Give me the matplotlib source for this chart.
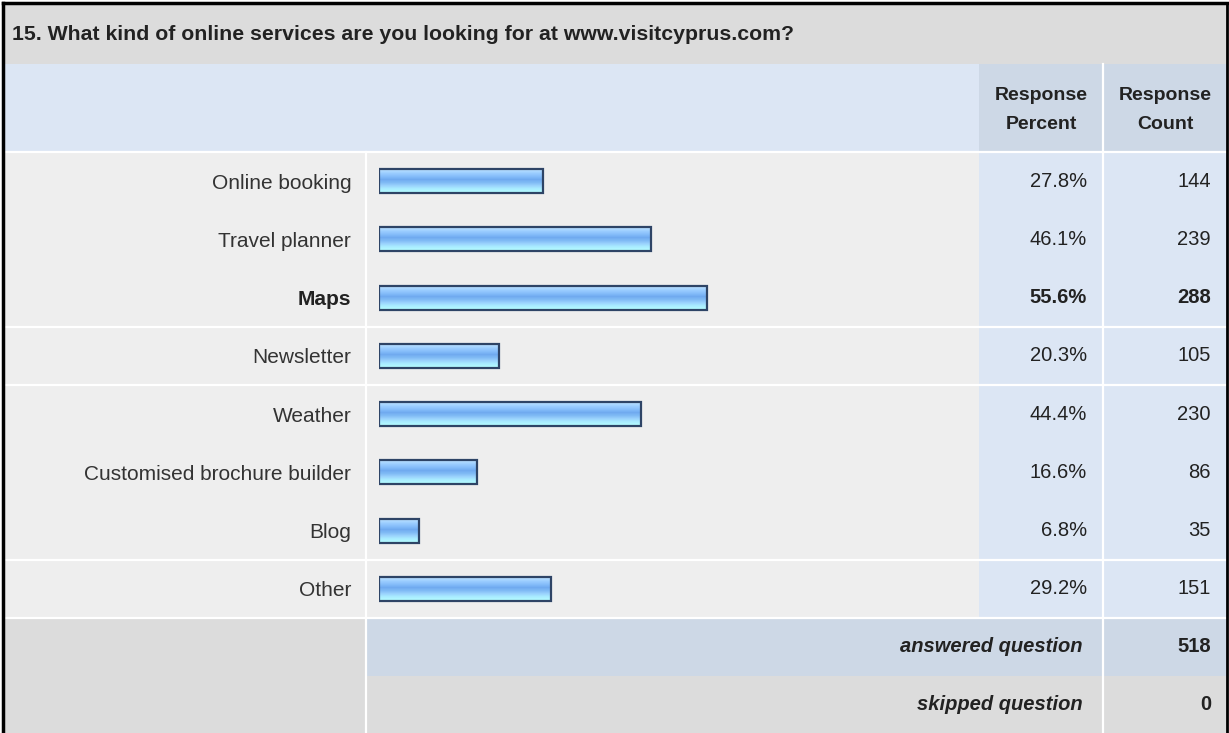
import matplotlib
matplotlib.use("Agg")
import matplotlib.pyplot as plt
import matplotlib.transforms as mtransforms
from matplotlib.patches import Rectangle
import numpy as np

plt.rcParams['font.family'] = ['Liberation Sans', 'DejaVu Sans']

# --- data ---
title = "15. What kind of online services are you looking for at www.visitcyprus.com?"
categories = ["Online booking", "Travel planner", "Maps", "Newsletter", "Weather",
              "Customised brochure builder", "Blog", "Other"]
percents = [27.8, 46.1, 55.6, 20.3, 44.4, 16.6, 6.8, 29.2]
counts = [144, 239, 288, 105, 230, 86, 35, 151]
bold_rows = ["Maps"]
answered = 518
skipped = 0

# --- layout (pixels) ---
W, H = 1229, 733
x_left, x_lab, x_pct, x_cnt, x_right = 4, 366, 979, 1103, 1227
y_top, y_head, y_data, y_foot, y_skip = 4, 64, 152, 618, 676
bar_x0, bar_x100 = 379, 969

c_title = '#dcdcdc'
c_head = '#dce6f4'
c_head_dark = '#cdd8e6'
c_row = '#eeeeee'
c_col = '#dce6f4'
c_text = '#222222'

fig = plt.figure(figsize=(W / 100, H / 100), dpi=100)
fig.patch.set_facecolor('white')

bg = fig.add_axes([0, 0, 1, 1])
bg.set_xlim(0, W)
bg.set_ylim(H, 0)
bg.axis('off')


def cell(x0, y0, x1, y1, color):
    bg.add_patch(Rectangle((x0, y0), x1 - x0, y1 - y0, facecolor=color, edgecolor='none', zorder=1))


cell(x_left, y_top, x_right, y_head, c_title)
cell(x_left, y_head, x_pct, y_data, c_head)
cell(x_pct, y_head, x_right, y_data, c_head_dark)
cell(x_left, y_data, x_pct, y_foot, c_row)
cell(x_pct, y_data, x_right, y_foot, c_col)
cell(x_left, y_foot, x_lab, H, c_title)
cell(x_lab, y_foot, x_right, y_skip, c_head_dark)
cell(x_lab, y_skip, x_right, H, c_title)

# white grid lines
row_h = (y_foot - y_data) / len(categories)
for k in [0, 3, 4, 7, 8]:
    y = y_data + k * row_h
    bg.plot([x_left, x_right], [y, y], color='white', lw=1.6, zorder=2)
bg.plot([x_lab - 0.5, x_lab - 0.5], [y_data, H], color='white', lw=1.6, zorder=2)
bg.plot([x_cnt - 0.5, x_cnt - 0.5], [y_head, H], color='white', lw=1.6, zorder=2)

# outer border
bg.plot([2.5, 2.5], [H, 2.5], color='black', lw=2.5, zorder=3)
bg.plot([2.5, W - 2], [2.5, 2.5], color='black', lw=2.5, zorder=3)
bg.plot([W - 2, W - 2], [2.5, H], color='black', lw=2.0, zorder=3)

# title and headers
bg.text(12, (y_top + y_head) / 2 + 1, title, fontsize=15.3, fontweight='bold',
        color=c_text, ha='left', va='center', zorder=4)
bg.text((x_pct + x_cnt) / 2, (y_head + y_data) / 2 + 2, "Response\nPercent", fontsize=14,
        fontweight='bold', color=c_text, ha='center', va='center', linespacing=1.9, zorder=4)
bg.text((x_cnt + x_right) / 2, (y_head + y_data) / 2 + 2, "Response\nCount", fontsize=14,
        fontweight='bold', color=c_text, ha='center', va='center', linespacing=1.9, zorder=4)

# --- bar axes ---
ax = fig.add_axes([bar_x0 / W, (H - y_foot) / H, (bar_x100 - bar_x0) / W, (y_foot - y_data) / H])
ax.patch.set_alpha(0)
for s in ax.spines.values():
    s.set_visible(False)
ax.set_xticks([])

y_pos = np.arange(len(categories))
bar_h = 0.41
grad = np.array([[0.70, 0.86, 1.00],
                 [0.60, 0.80, 1.00],
                 [0.52, 0.74, 0.98],
                 [0.44, 0.67, 0.94],
                 [0.50, 0.73, 0.96],
                 [0.60, 0.82, 0.99],
                 [0.66, 0.92, 1.00],
                 [0.70, 0.98, 1.00]]).reshape(-1, 1, 3)

bars = ax.barh(y_pos, percents, height=bar_h, color='none', edgecolor='#2e4466',
               linewidth=1.6, zorder=3)
for b in bars:
    x0, y0, w, h = b.get_x(), b.get_y(), b.get_width(), b.get_height()
    ax.imshow(grad, extent=(x0, x0 + w, y0 + h, y0), aspect='auto',
              interpolation='bilinear', zorder=2)

ax.set_xlim(0, 100)
ax.set_ylim(len(categories) - 0.5, -0.5)
ax.set_yticks(y_pos)
ax.set_yticklabels(categories, fontsize=15, color='#333333')
ax.tick_params(axis='y', length=0, pad=20)
for lbl in ax.get_yticklabels():
    if lbl.get_text() in bold_rows:
        lbl.set_fontweight('bold')
        lbl.set_color(c_text)

# values in the right columns
tr = mtransforms.blended_transform_factory(bg.transData, ax.transData)
for i, (cat, p, c) in enumerate(zip(categories, percents, counts)):
    fw = 'bold' if cat in bold_rows else 'normal'
    ax.text(1087, i, f"{p:.1f}%", transform=tr, ha='right', va='center',
            fontsize=14.5, fontweight=fw, color=c_text)
    ax.text(1211, i, f"{c}", transform=tr, ha='right', va='center',
            fontsize=14.5, fontweight=fw, color=c_text)

# footer
bg.text(1083, (y_foot + y_skip) / 2, "answered question", fontsize=14.5, style='italic',
        fontweight='bold', color=c_text, ha='right', va='center', zorder=4)
bg.text(1211, (y_foot + y_skip) / 2, f"{answered}", fontsize=14.5, fontweight='bold',
        color=c_text, ha='right', va='center', zorder=4)
bg.text(1083, (y_skip + H) / 2, "skipped question", fontsize=14.5, style='italic',
        fontweight='bold', color=c_text, ha='right', va='center', zorder=4)
bg.text(1211, (y_skip + H) / 2, f"{skipped}", fontsize=14.5, fontweight='bold',
        color=c_text, ha='right', va='center', zorder=4)

fig.savefig("out.png", dpi=100)
